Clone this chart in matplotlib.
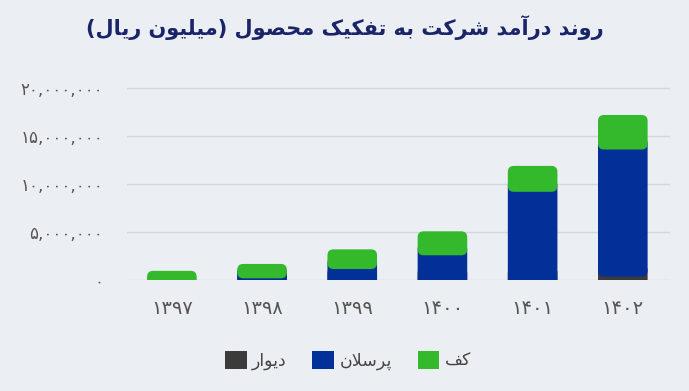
import matplotlib.pyplot as plt
import numpy as np
from matplotlib.patches import FancyBboxPatch, Patch
from matplotlib.ticker import FuncFormatter

plt.rcParams['font.family'] = ['DejaVu Sans']

years = ['1397', '1398', '1399', '1400', '1401', '1402']
# values in million rial
wall = [0.0, 0.02e6, 0.04e6, 0.07e6, 0.09e6, 0.35e6]
porcelain = [0.0, 0.15e6, 1.10e6, 2.50e6, 9.10e6, 13.25e6]
floor = [0.95e6, 1.50e6, 2.05e6, 2.50e6, 2.70e6, 3.60e6]

title = 'روند درآمد شرکت به تفکیک محصول (میلیون ریال)'
series_names = ['دیوار', 'پرسلان', 'کف']
colors = ['#3b3b3b', '#032f98', '#34b82c']

# simple persian shaping (matplotlib has no complex text layout)
FORMS = {
  'ا': ('\uFE8D', '\uFE8E', None, None),
  'آ': ('\uFE81', '\uFE82', None, None),
  'ب': ('\uFE8F', '\uFE90', '\uFE91', '\uFE92'),
  'پ': ('\uFB56', '\uFB57', '\uFB58', '\uFB59'),
  'ت': ('\uFE95', '\uFE96', '\uFE97', '\uFE98'),
  'ح': ('\uFEA1', '\uFEA2', '\uFEA3', '\uFEA4'),
  'د': ('\uFEA9', '\uFEAA', None, None),
  'ر': ('\uFEAD', '\uFEAE', None, None),
  'س': ('\uFEB1', '\uFEB2', '\uFEB3', '\uFEB4'),
  'ش': ('\uFEB5', '\uFEB6', '\uFEB7', '\uFEB8'),
  'ص': ('\uFEB9', '\uFEBA', '\uFEBB', '\uFEBC'),
  'ف': ('\uFED1', '\uFED2', '\uFED3', '\uFED4'),
  'ک': ('\uFB8E', '\uFB8F', '\uFB90', '\uFB91'),
  'ل': ('\uFEDD', '\uFEDE', '\uFEDF', '\uFEE0'),
  'م': ('\uFEE1', '\uFEE2', '\uFEE3', '\uFEE4'),
  'ن': ('\uFEE5', '\uFEE6', '\uFEE7', '\uFEE8'),
  'ه': ('\uFEE9', '\uFEEA', '\uFEEB', '\uFEEC'),
  'و': ('\uFEED', '\uFEEE', None, None),
  'ی': ('\uFBFC', '\uFBFD', '\uFBFE', '\uFBFF'),
}

def joins_next(c):
  return c in FORMS and FORMS[c][2] is not None

def fa(text):
  res = []
  n = len(text)
  i = 0
  while i < n:
    c = text[i]
    if c not in FORMS:
      res.append(c)
      i += 1
      continue
    conn_prev = i > 0 and joins_next(text[i - 1])
    if c == 'ل' and i + 1 < n and text[i + 1] == 'ا':
      res.append('\uFEFC' if conn_prev else '\uFEFB')
      i += 2
      continue
    conn_next = joins_next(c) and i + 1 < n and text[i + 1] in FORMS
    iso, fin, ini, med = FORMS[c]
    if conn_prev and conn_next:
      res.append(med)
    elif conn_prev:
      res.append(fin)
    elif conn_next:
      res.append(ini)
    else:
      res.append(iso)
    i += 1
  return ''.join(res)[::-1].translate(str.maketrans('()', ')('))

def fa_digits(s):
  return s.translate(str.maketrans('0123456789', '۰۱۲۳۴۵۶۷۸۹'))

bg = '#ebeef2'
fig = plt.figure(figsize=(6.89, 3.91), dpi=100, facecolor=bg)
ax = fig.add_axes([0.184, 0.284, 0.788, 0.498], facecolor=bg)

x = np.arange(len(years))
width = 0.55
b1 = ax.bar(x, wall, width, color=colors[0])
b2 = ax.bar(x, porcelain, width, bottom=wall, color=colors[1])
b3 = ax.bar(x, floor, width, bottom=np.array(wall) + np.array(porcelain), color=colors[2])

ax.set_xlim(-0.5, 5.52)
ax.set_ylim(0, 20.3e6)
ax.set_yticks([0, 5e6, 10e6, 15e6, 20e6])
ax.yaxis.set_major_formatter(FuncFormatter(lambda v, p: fa_digits(f'{int(v):,}')))
ax.set_xticks(x, [fa_digits(y) for y in years])
ax.tick_params(axis='y', length=0, pad=17, labelsize=12, labelcolor='#555555')
ax.tick_params(axis='x', length=0, pad=14, labelsize=14, labelcolor='#555555')
ax.grid(axis='y', color='#d3d6da', linewidth=1)
ax.set_axisbelow(True)
for s in ax.spines.values():
  s.set_visible(False)

# rounded corners for the bar segments; lower segments run on under the
# next one so the rounded corners show the colour below, the column foot is
# pushed below zero and clipped so it stays square
pos = ax.get_position()
x_per_px = (5.52 + 0.5) / (pos.width * 689)
y_per_px = 20.3e6 / (pos.height * 391)
r_px = 6
for z, (container, color) in enumerate([(b1, colors[0]), (b2, colors[1]), (b3, colors[2])]):
  last = z == 2
  for rect in container:
    bx, by, bw, bh = rect.get_x(), rect.get_y(), rect.get_width(), rect.get_height()
    rect.set_visible(False)
    if bh <= 0:
      continue
    lo, hi = by, by + bh
    if by / y_per_px < 1:
      lo = -2 * r_px * y_per_px
    if not last:
      hi += 2 * r_px * y_per_px
    p = FancyBboxPatch((bx, lo), bw, hi - lo,
                       boxstyle=f'round,pad=0,rounding_size={r_px * x_per_px}',
                       mutation_aspect=y_per_px / x_per_px,
                       fc=color, ec='none', zorder=2 + z)
    ax.add_patch(p)

fig.text(0.5, 0.93, fa(title), ha='center', va='center', fontsize=15,
         fontweight='bold', color='#1a2569')

handles = [Patch(facecolor=c, edgecolor='none') for c in colors]
fig.legend(handles, [fa(n) for n in series_names], loc='center', bbox_to_anchor=(0.505, 0.078),
           ncol=3, frameon=False, fontsize=12.5, labelcolor='#444444',
           handlelength=1.25, handleheight=1.25, handletextpad=0.3, columnspacing=1.5)

fig.savefig('out.png', dpi=100, facecolor=bg)
